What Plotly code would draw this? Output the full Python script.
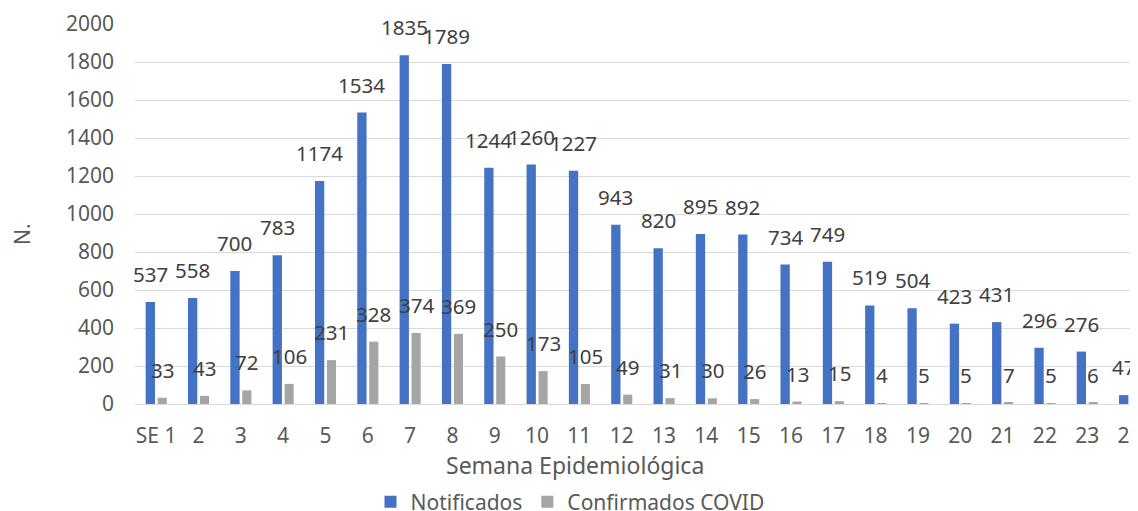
import plotly.graph_objects as go

categories = ["SE 1"] + [str(i) for i in range(2, 25)]
notificados = [537, 558, 700, 783, 1174, 1534, 1835, 1789, 1244, 1260, 1227, 943,
               820, 895, 892, 734, 749, 519, 504, 423, 431, 296, 276, 47]
confirmados = [33, 43, 72, 106, 231, 328, 374, 369, 250, 173, 105, 49,
               31, 30, 26, 13, 15, 4, 5, 5, 7, 5, 6, 2]

# page body has an 8px margin; figure sized to fill the rest of the window
W, H = 1130, 503
ML, MR, MT, MB = 127, 0, 16, 107
x_range = [-0.5, 23.2]
px_per_cat = (W - ML - MR) / (x_range[1] - x_range[0])
plot_h = H - MT - MB
plot_w = W - ML - MR

BLUE = "#4472C4"
GRAY = "#A5A5A5"
FONT = "Noto Sans"

b_off, b_w = -0.248, 0.22
g_off, g_w = 0.035, 0.215

fig = go.Figure()
fig.add_trace(go.Bar(x=categories, y=notificados, name="Notificados",
                     marker=dict(color=BLUE, line=dict(width=0)),
                     offset=b_off, width=b_w))
fig.add_trace(go.Bar(x=categories, y=confirmados, name="Confirmados COVID",
                     marker=dict(color=GRAY, line=dict(width=0)),
                     offset=g_off, width=g_w))

annots = []
for i, v in enumerate(notificados):
    annots.append(dict(x=i, y=v, text=str(v), showarrow=False, yanchor="bottom",
                       xanchor="center", xshift=(b_off + b_w / 2) * px_per_cat,
                       yshift=12, font=dict(family=FONT, size=20.5, color="#404040")))
for i, v in enumerate(confirmados):
    annots.append(dict(x=i, y=v, text=str(v), showarrow=False, yanchor="bottom",
                       xanchor="center", xshift=(g_off + g_w / 2) * px_per_cat,
                       yshift=12, font=dict(family=FONT, size=20.5, color="#404040")))

annots.append(dict(text="Semana Epidemiológica",
                   x=(567 - ML) / plot_w, xref="paper",
                   y=-(457 - (H - MB)) / plot_h, yref="paper",
                   showarrow=False, yanchor="middle", xanchor="center",
                   font=dict(family=FONT, size=23, color="#595959")))
annots.append(dict(text="N.", x=(14 - ML) / plot_w, xref="paper",
                   y=((H - MB) - 226) / plot_h, yref="paper",
                   showarrow=False, textangle=-90, xanchor="center", yanchor="middle",
                   font=dict(family=FONT, size=21, color="#595959")))

fig.update_layout(
    width=W, height=H,
    margin=dict(l=ML, r=MR, t=MT, b=MB, autoexpand=False),
    plot_bgcolor="white", paper_bgcolor="white",
    barmode="group",
    showlegend=True,
    legend=dict(orientation="h", xref="container", x=562 / W, xanchor="center",
                yref="container", y=9 / H, yanchor="middle",
                font=dict(family=FONT, size=21, color="#595959"),
                itemwidth=30, traceorder="normal"),
    annotations=annots,
    xaxis=dict(range=x_range, showgrid=False, showline=False, zeroline=False,
               ticks="", tickfont=dict(family=FONT, size=21, color="#595959"),
               ticklabelstandoff=17),
    yaxis=dict(range=[0, 2000], dtick=200, showgrid=True, gridcolor="#D9D9D9",
               gridwidth=1.3, zeroline=True, zerolinecolor="#D9D9D9", zerolinewidth=1.3,
               showline=False, ticks="",
               tickfont=dict(family=FONT, size=21, color="#595959"),
               ticklabelstandoff=20),
)

fig.write_html("out.html")
